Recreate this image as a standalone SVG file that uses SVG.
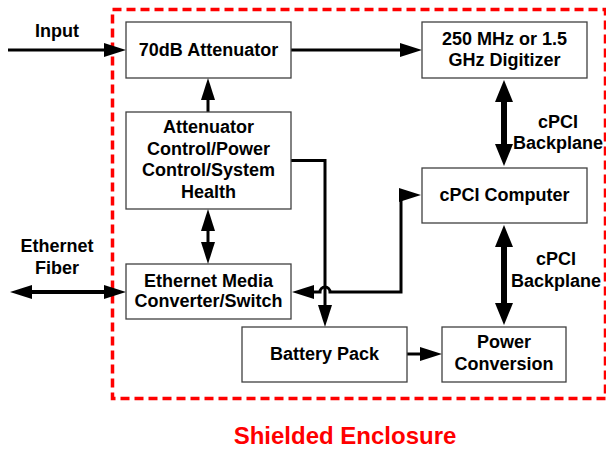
<svg xmlns="http://www.w3.org/2000/svg" width="606" height="449" viewBox="0 0 606 449">
<style>
.box{fill:#fff;stroke:#404040;stroke-width:1.3}
.t{font-family:"Liberation Sans",Arial,sans-serif;font-weight:bold;font-size:18px;fill:#000;text-anchor:middle}
.w{fill:none;stroke:#000;stroke-width:3}
.wt{fill:none;stroke:#000;stroke-width:6}
.border{fill:none;stroke:#ff0000;stroke-width:3.5;stroke-dasharray:9 5}
</style>
<defs>
<marker id="a" markerUnits="userSpaceOnUse" markerWidth="24" markerHeight="16" refX="11" refY="7" orient="auto-start-reverse">
<path d="M0,0 L22,7 L0,14 z" fill="#000"/>
</marker>
<marker id="b" markerUnits="userSpaceOnUse" markerWidth="24" markerHeight="20" refX="12" refY="9" orient="auto-start-reverse">
<path d="M0,0 L22,9 L0,18 z" fill="#000"/>
</marker>
</defs>
<rect class="border" x="112.5" y="9.5" width="493" height="389"/>
<text class="t" x="345" y="444" style="font-size:24px;fill:#ff0000">Shielded Enclosure</text>
<g id="connectors">
<path class="w" d="M8 50 H115" marker-end="url(#a)"/>
<path class="w" d="M291 50 H411" marker-end="url(#a)"/>
<path class="w" d="M208 112 V89" marker-end="url(#a)"/>
<path class="w" d="M208 220 V253" marker-start="url(#a)" marker-end="url(#a)"/>
<path class="w" d="M21 292 H115" style="stroke-width:4" marker-start="url(#a)" marker-end="url(#a)"/>
<path class="wt" d="M504 90 V156" marker-start="url(#b)" marker-end="url(#b)"/>
<path class="wt" d="M504 235 V315" marker-start="url(#b)" marker-end="url(#b)"/>
<path class="w" d="M407 354 H431" marker-end="url(#a)"/>
<path class="w" d="M291 160.5 H325 V316" marker-end="url(#a)"/>
<path class="w" d="M410 195 H401 V292 H330 A5 5 0 0 0 320 292 H303" marker-start="url(#a)" marker-end="url(#a)"/>
</g>
<text class="t" x="57" y="37">Input</text>
<text class="t" x="57" y="252">Ethernet</text>
<text class="t" x="57" y="274">Fiber</text>
<text class="t" x="558" y="128">cPCI</text>
<text class="t" x="558" y="149">Backplane</text>
<text class="t" x="556" y="265">cPCI</text>
<text class="t" x="556" y="287">Backplane</text>
<g id="attenuator">
<rect class="box" x="126" y="22" width="165" height="56"/>
<text class="t" x="208.5" y="56">70dB Attenuator</text>
</g>
<g id="control">
<rect class="box" x="126" y="112" width="165" height="97"/>
<text class="t" x="208.5" y="133">Attenuator</text>
<text class="t" x="208.5" y="154.5">Control/Power</text>
<text class="t" x="208.5" y="176">Control/System</text>
<text class="t" x="208.5" y="198">Health</text>
</g>
<g id="ethernet">
<rect class="box" x="126" y="264" width="165" height="55"/>
<text class="t" x="208.5" y="287">Ethernet Media</text>
<text class="t" x="208.5" y="307">Converter/Switch</text>
</g>
<g id="digitizer">
<rect class="box" x="422" y="22" width="165" height="56"/>
<text class="t" x="504.5" y="45">250 MHz or 1.5</text>
<text class="t" x="504.5" y="66">GHz Digitizer</text>
</g>
<g id="computer">
<rect class="box" x="422" y="168" width="165" height="55"/>
<text class="t" x="504.5" y="201">cPCI Computer</text>
</g>
<g id="battery">
<rect class="box" x="242" y="327" width="165" height="55"/>
<text class="t" x="324.5" y="360">Battery Pack</text>
</g>
<g id="power">
<rect class="box" x="442" y="327" width="124" height="55"/>
<text class="t" x="504" y="348">Power</text>
<text class="t" x="504" y="370">Conversion</text>
</g>
</svg>
